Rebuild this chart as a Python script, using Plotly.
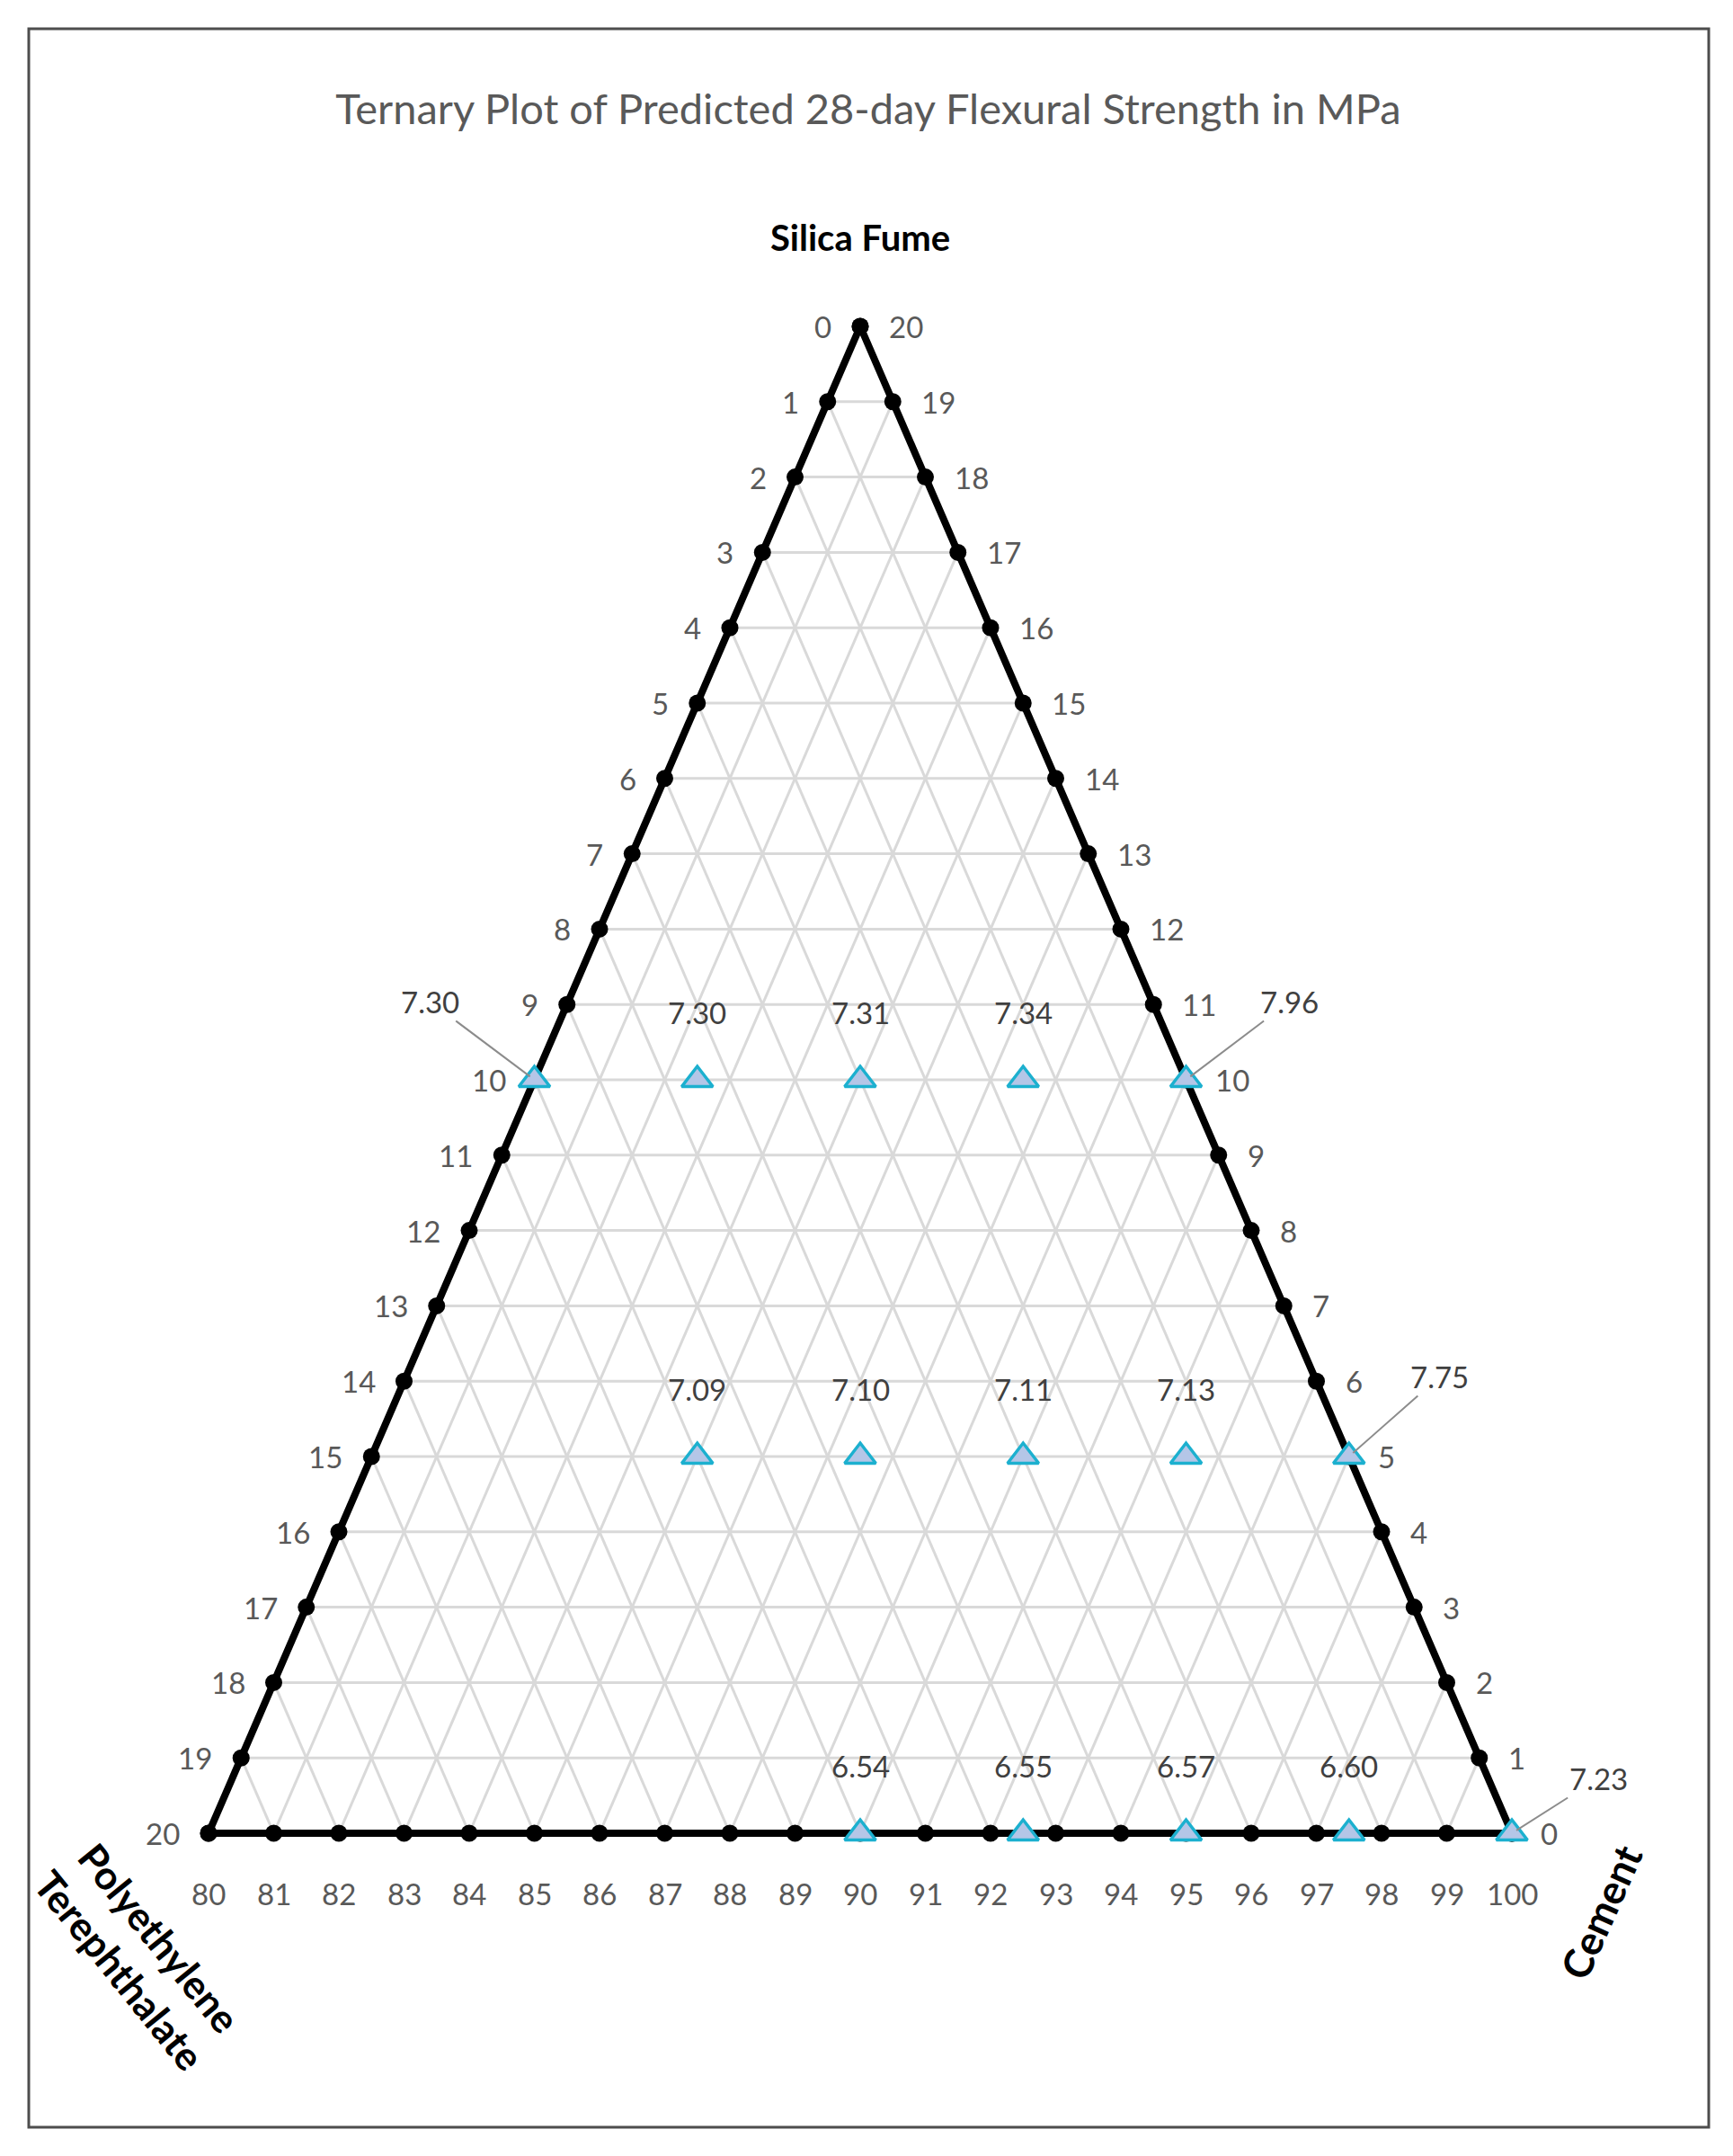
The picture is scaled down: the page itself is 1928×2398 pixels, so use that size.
import plotly.graph_objects as go

# design points (mass %) and predicted 28-day flexural strength (MPa)
cement = [80, 82.5, 85, 87.5, 90, 85, 87.5, 90, 92.5, 95, 90, 92.5, 95, 97.5, 100]
silica_fume = [10, 10, 10, 10, 10, 5, 5, 5, 5, 5, 0, 0, 0, 0, 0]
pet = [10, 7.5, 5, 2.5, 0, 10, 7.5, 5, 2.5, 0, 10, 7.5, 5, 2.5, 0]
strength = [7.30, 7.30, 7.31, 7.34, 7.96, 7.09, 7.10, 7.11, 7.13, 7.75,
            6.54, 6.55, 6.57, 6.60, 7.23]

cement_ticks = list(range(80, 101))
sf_ticks = list(range(0, 21))
pet_ticks = list(range(0, 21))

title = "Ternary Plot of Predicted 28-day Flexural Strength in MPa"
apex_title = "Silica Fume"
left_title = "Polyethylene<br>Terephthalate"
right_title = "Cement"

C_MIN = 80
SPAN = 20


def to_xy(c, s):
    # cement / silica fume -> plane; PET is what is left to 100
    return c - C_MIN + s / 2, s


W, H = 1928, 2398
# pixel positions of the triangle corners in the page
PX_L, PX_R, PY_BOT, PY_TOP = 232, 1682, 2039, 363
ux = (PX_R - PX_L) / SPAN
uy = (PY_BOT - PY_TOP) / SPAN
xr = [-PX_L / ux, (W - PX_L) / ux]
yr = [-(H - PY_BOT) / uy, PY_BOT / uy]

GRAY_TXT = "#595959"
FONT = "Lato, Carlito, Calibri, sans-serif"

fig = go.Figure()

# grid lines, one unit apart, parallel to each side
gx, gy = [], []
for k in range(1, SPAN):
    # constant silica fume
    for p in [to_xy(100 - k, k), to_xy(C_MIN, k)]:
        gx.append(p[0]); gy.append(p[1])
    gx.append(None); gy.append(None)
    # constant PET
    for p in [to_xy(100 - k, 0), to_xy(C_MIN, SPAN - k)]:
        gx.append(p[0]); gy.append(p[1])
    gx.append(None); gy.append(None)
    # constant cement
    for p in [to_xy(C_MIN + k, 0), to_xy(C_MIN + k, SPAN - k)]:
        gx.append(p[0]); gy.append(p[1])
    gx.append(None); gy.append(None)
fig.add_trace(go.Scatter(x=gx, y=gy, mode="lines", line=dict(color="#d9d9d9", width=3),
                         hoverinfo="skip", showlegend=False))

# triangle sides with a dot at every tick
ex, ey = [], []
for v in pet_ticks:            # left side, cement = 80
    p = to_xy(C_MIN, SPAN - v); ex.append(p[0]); ey.append(p[1])
for v in cement_ticks:         # bottom side, silica fume = 0
    p = to_xy(v, 0); ex.append(p[0]); ey.append(p[1])
for v in sf_ticks:             # right side, PET = 0
    p = to_xy(100 - v, v); ex.append(p[0]); ey.append(p[1])
fig.add_trace(go.Scatter(x=ex, y=ey, mode="lines+markers",
                         line=dict(color="black", width=8),
                         marker=dict(color="black", size=19),
                         hoverinfo="skip", showlegend=False, cliponaxis=False))

# design points
px = [to_xy(c, s)[0] for c, s in zip(cement, silica_fume)]
py = [to_xy(c, s)[1] for c, s in zip(cement, silica_fume)]
fig.add_trace(go.Scatter(
    x=px, y=py, mode="markers",
    marker=dict(symbol="triangle-up", size=30, color="#b4c6e7",
                line=dict(color="#1cb0cf", width=3.5)),
    customdata=list(zip(cement, silica_fume, pet)),
    text=[f"{v:.2f}" for v in strength],
    hovertemplate="Cement %{customdata[0]}<br>Silica fume %{customdata[1]}"
                  "<br>PET %{customdata[2]}<br>%{text} MPa<extra></extra>",
    showlegend=False, cliponaxis=False))

ann = []
tick_font = dict(family=FONT, size=33, color=GRAY_TXT)
for v in pet_ticks:
    x, y = to_xy(C_MIN, SPAN - v)
    ann.append(dict(x=x, y=y, text=str(v), showarrow=False, xanchor="right",
                    xshift=-30, font=tick_font))
for v in sf_ticks:
    x, y = to_xy(100 - v, v)
    ann.append(dict(x=x, y=y, text=str(v), showarrow=False, xanchor="left",
                    xshift=30, font=tick_font))
for v in cement_ticks:
    x, y = to_xy(v, 0)
    ann.append(dict(x=x, y=y, text=str(v), showarrow=False, yanchor="middle",
                    yshift=-67, font=tick_font))

# data labels; the ones sitting on a side are pushed out with a leader line
leader = {0: (-116, -87), 4: (115, -87), 9: (101, -89), 14: (96, -61)}
lab_font = dict(family=FONT, size=33, color="#404040")
for i, v in enumerate(strength):
    if i in leader:
        ax, ay = leader[i]
        ann.append(dict(x=px[i], y=py[i], text=f"{v:.2f}", showarrow=True,
                        arrowhead=0, arrowwidth=2, arrowcolor="#8c8c8c",
                        ax=ax, ay=ay, standoff=6, font=lab_font))
    else:
        ann.append(dict(x=px[i], y=py[i], text=f"{v:.2f}", showarrow=False,
                        yshift=75, font=lab_font))

corner_font = dict(family=FONT, size=40, color="black", weight="bold")
ax0, ay0 = to_xy(C_MIN, SPAN)
ann.append(dict(x=ax0, y=ay0, text=apex_title, showarrow=False, yshift=99,
                font=corner_font))
bx, by = to_xy(C_MIN, 0)
ann.append(dict(x=bx, y=by, text=left_title, showarrow=False, textangle=51,
                xshift=-76, yshift=-134, font=dict(corner_font, size=44)))
cx, cy = to_xy(100, 0)
ann.append(dict(x=cx, y=cy, text=right_title, showarrow=False, textangle=-66,
                xshift=99, yshift=-88, font=dict(corner_font, size=45)))

fig.update_layout(
    width=W, height=H,
    margin=dict(l=0, r=0, t=0, b=0),
    paper_bgcolor="white", plot_bgcolor="white",
    title=dict(text=title, x=0.501, y=1 - 122 / H, xanchor="center", yanchor="middle",
               font=dict(family=FONT, size=47, color=GRAY_TXT)),
    xaxis=dict(range=xr, visible=False, fixedrange=True),
    yaxis=dict(range=yr, visible=False, fixedrange=True),
    annotations=ann,
    shapes=[dict(type="rect", xref="paper", yref="paper",
                 x0=32 / W, x1=1901 / W, y0=1 - 2366 / H, y1=1 - 32 / H,
                 line=dict(color="#4d4d4d", width=3))],
)

fig.write_html("out.html", config={"displayModeBar": False},
               post_script="document.body.style.margin='0';")
